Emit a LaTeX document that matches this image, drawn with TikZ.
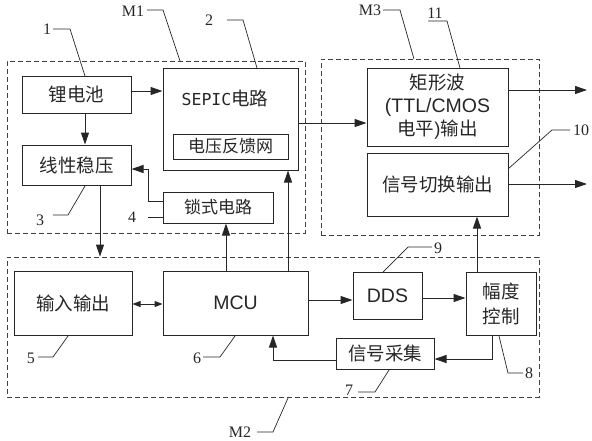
\documentclass[tikz,border=0pt]{standalone}
\usepackage{fontspec}
\setmainfont{Liberation Serif}
\newfontfamily\cjk{Noto Sans CJK SC}
\newfontfamily\arl{Liberation Sans}
\newfontfamily\mon{DejaVu Sans Mono}
\usetikzlibrary{arrows.meta,calc}
\begin{document}
\begin{tikzpicture}[x=1pt,y=-1pt,
 box/.style={draw=black!85, line width=1pt, inner sep=0pt, font=\cjk\fontsize{18.5}{23}\selectfont, text=black!85, align=center},
 grp/.style={draw=black!75, line width=0.9pt, dash pattern=on 5pt off 3pt, inner sep=0pt},
 arr/.style={line width=1pt, draw=black!85, -{Triangle[length=12pt,width=8pt]}},
 darr/.style={line width=1pt, draw=black!85, {Triangle[length=8pt,width=6pt]}-{Triangle[length=8pt,width=6pt]}},
 lead/.style={line width=0.7pt, draw=black!85},
 num/.style={font=\fontsize{16}{16}\selectfont, text=black!85, inner sep=0pt}]
\useasboundingbox (0,0) rectangle (592,440);
% groups
\node[grp, minimum width=298pt, minimum height=172pt] (m1) at (156,147) {};
\node[grp, minimum width=218pt, minimum height=176pt] (m3) at (430,147) {};
\node[grp, minimum width=532pt, minimum height=140pt] (m2) at (273,327) {};
% M1 blocks
\node[box, minimum width=109pt, minimum height=37pt] (bat) at (76.5,94.5) {锂电池};
\node[box, minimum width=109pt, minimum height=40pt] (lin) at (76.5,165) {线性稳压};
\node[box, minimum width=135pt, minimum height=102pt] (sepic) at (230.5,119) {};
\node[font=\cjk\fontsize{18.5}{23}\selectfont, text=black!85, inner sep=0pt] (sepict) at (225,98) {{\mon\fontsize{16.5}{18}\selectfont SEPIC}电路};
\node[box, minimum width=115pt, minimum height=25pt, font=\cjk\fontsize{17}{20}\selectfont] (fb) at (230.5,146.5) {电压反馈网};
\node[box, minimum width=110pt, minimum height=31pt, font=\cjk\fontsize{17}{20}\selectfont] (lock) at (218,207.5) {锁式电路};
% M3 blocks
\node[box, minimum width=141pt, minimum height=78pt] (rect) at (437.5,107) {矩形波\\{\arl\fontsize{19.5}{23}\selectfont (TTL/CMOS}\\电平{\arl)}输出};
\node[box, minimum width=141pt, minimum height=63pt] (sw) at (437.5,184.5) {信号切换输出};
% M2 blocks
\node[box, minimum width=118pt, minimum height=64pt] (io) at (73,303) {输入输出};
\node[box, minimum width=145pt, minimum height=64pt, font=\arl\fontsize{19.5}{23}\selectfont] (mcu) at (235.5,303) {MCU};
\node[box, minimum width=69pt, minimum height=47pt, font=\arl\fontsize{19.5}{23}\selectfont] (dds) at (387.5,295.5) {DDS};
\node[box, minimum width=70pt, minimum height=63pt, font=\cjk\fontsize{18.5}{25}\selectfont] (amp) at (501,303.5) {幅度\\控制};
\node[box, minimum width=98pt, minimum height=31pt] (acq) at (385,353.5) {信号采集};
\coordinate (out1) at (587,90);
\coordinate (out2) at (587,184);
% connectors
\draw[arr] (bat.east |- 0,91) -- (sepic.west |- 0,91);
\draw[arr] (bat.south -| 85,0) -- (lin.north -| 85,0);
\draw[arr] (lock.west |- 0,201) -- (148,201) -- (148,169) -- (lin.east |- 0,169);
\draw[arr] (lin.south -| 100,0) -- (m2.north -| 100,0);
\draw[arr] (mcu.north -| 226,0) -- (lock.south -| 226,0);
\draw[arr] (mcu.north -| 288,0) -- (sepic.south -| 288,0);
\draw[arr] (sepic.east |- 0,123) -- (rect.west |- 0,123);
\draw[arr] (rect.east |- out1) -- (out1);
\draw[arr] (sw.east |- out2) -- (out2);
\draw[arr] (amp.north -| 477,0) -- (sw.south -| 477,0);
\draw[darr] (io.east |- 0,304) -- (mcu.west |- 0,304);
\draw[arr] (mcu.east |- 0,300) -- (dds.west |- 0,300);
\draw[arr] (dds.east |- 0,298) -- (amp.west |- 0,298);
\draw[arr] (amp.south -| 492,0) -- (492,359) -- (acq.east |- 0,359);
\draw[arr] (acq.west |- 0,360) -- (273,360) -- (mcu.south -| 273,0);
% labels
\node[num] (l1) at (47,29) {1};
\draw[lead] (53,29) -- (70,29) -- (85,76);
\node[num] (lm1) at (133,11) {M1};
\draw[lead] (147,10) -- (163,10) -- (180,61);
\node[num] (l2) at (209,20) {2};
\draw[lead] (227,20) -- (243,20) -- (257,68);
\node[num] (l3) at (40,220) {3};
\draw[lead] (53,215) -- (68,215) -- (85,186);
\node[num] (l4) at (132,217) {4};
\draw[lead] (148,217) -- (lock.west |- 0,217);
\node[num] (lm3) at (370,10) {M3};
\draw[lead] (383,10) -- (400,10) -- (414,59);
\node[num] (l11) at (435,13) {11};
\draw[lead] (428,21) -- (447,21) -- (460,68);
\node[num] (l10) at (581,130) {10};
\draw[lead] (570,130) -- (552,130) -- (508,169);
\node[num] (l5) at (31,358) {5};
\draw[lead] (38,357) -- (53,357) -- (68,336);
\node[num] (l6) at (197,358) {6};
\draw[lead] (203,357) -- (220,357) -- (235,336);
\node[num] (lm2) at (240,432) {M2};
\draw[lead] (257,432) -- (273,432) -- (288,398);
\node[num] (l7) at (349,390) {7};
\draw[lead] (358,392) -- (375,392) -- (389,370);
\node[num] (l8) at (529,373) {8};
\draw[lead] (499,336) -- (508,373) -- (523,373);
\node[num] (l9) at (438,248) {9};
\draw[lead] (432,247) -- (408,247) -- (383,272);
\end{tikzpicture}
\end{document}
